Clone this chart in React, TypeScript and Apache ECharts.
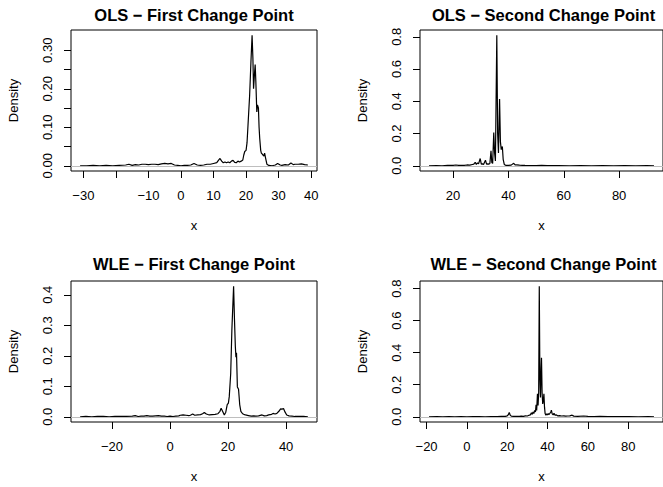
import React, { useEffect, useRef } from "react";
import * as echarts from "echarts";

const titles = [
  "OLS − First Change Point",
  "OLS − Second Change Point",
  "WLE − First Change Point",
  "WLE − Second Change Point",
];

// OLS - first change point (density estimate)
const ols1X = [-31, -29, -27, -25, -23, -21, -19, -17, -16, -15, -14, -13, -12, -11, -10, -9, -8, -7, -6, -5, -4, -3, -2, -1, 0, 1, 2, 3, 4, 5, 6, 7, 8, 9, 10, 11, 11.5, 12, 12.5, 13, 13.5, 14, 14.5, 15, 15.5, 16, 16.5, 17, 17.5, 18, 18.5, 19, 19.3, 19.6, 20, 20.3, 20.6, 21.1, 21.5, 21.85, 22.1, 22.3, 22.6, 22.8, 23.0, 23.3, 23.5, 23.8, 24.0, 24.2, 24.5, 24.7, 25.0, 25.2, 25.5, 25.7, 26.0, 26.4, 27, 28, 29, 29.7, 30.5, 31, 32, 33, 33.8, 34.5, 35, 36, 37, 38, 39];
const ols1Y = [0.000, 0.000, 0.001, 0.000, 0.001, 0.000, 0.001, 0.002, 0.004, 0.001, 0.003, 0.002, 0.004, 0.004, 0.003, 0.004, 0.004, 0.003, 0.005, 0.006, 0.005, 0.006, 0.002, 0.001, 0.000, 0.001, 0.001, 0.002, 0.006, 0.002, 0.001, 0.002, 0.004, 0.004, 0.006, 0.008, 0.014, 0.019, 0.012, 0.008, 0.010, 0.008, 0.010, 0.008, 0.012, 0.014, 0.009, 0.008, 0.012, 0.010, 0.012, 0.015, 0.028, 0.037, 0.040, 0.060, 0.106, 0.183, 0.270, 0.339, 0.280, 0.200, 0.240, 0.263, 0.220, 0.140, 0.158, 0.150, 0.100, 0.071, 0.040, 0.033, 0.030, 0.028, 0.025, 0.033, 0.020, 0.004, 0.001, 0.000, 0.002, 0.006, 0.002, 0.001, 0.003, 0.002, 0.007, 0.003, 0.004, 0.004, 0.005, 0.003, 0.002];

// OLS - second change point
const ols2X = [11.3, 14, 16, 18, 20, 21, 22, 23, 24, 25, 26, 27, 27.5, 28, 28.4, 28.8, 29.2, 29.8, 30.2, 30.6, 31.0, 31.7, 32.1, 32.6, 33.0, 33.3, 33.7, 34.0, 34.3, 34.7, 35.0, 35.3, 35.8, 36.1, 36.4, 36.8, 37.1, 37.4, 37.8, 38.1, 38.5, 39, 40, 41, 41.9, 42.5, 43, 44, 45, 46, 48, 50, 52, 54, 58, 62, 66, 70, 74, 78, 82, 86, 90, 92.6];
const ols2Y = [0.000, 0.001, 0.000, 0.002, 0.003, 0.005, 0.002, 0.003, 0.002, 0.005, 0.004, 0.008, 0.010, 0.022, 0.008, 0.018, 0.012, 0.045, 0.010, 0.012, 0.008, 0.035, 0.010, 0.012, 0.010, 0.015, 0.093, 0.020, 0.015, 0.206, 0.080, 0.030, 0.810, 0.200, 0.080, 0.415, 0.150, 0.100, 0.120, 0.040, 0.008, 0.003, 0.002, 0.004, 0.015, 0.005, 0.006, 0.004, 0.003, 0.002, 0.001, 0.001, 0.003, 0.001, 0.001, 0.000, 0.001, 0.000, 0.001, 0.000, 0.001, 0.000, 0.001, 0.000];

// WLE - first change point
const wle1X = [-31, -29, -27, -25, -23, -21, -19, -17, -15, -13, -12, -11, -10, -9, -8, -7, -6, -5, -4, -3, -2, -1, 0, 1, 2, 3, 3.5, 4.5, 5.5, 6.5, 7, 7.8, 8.5, 9.5, 10.5, 11.2, 11.8, 12.5, 13.5, 14.5, 15.5, 16.5, 17.2, 17.6, 18.1, 18.7, 19.2, 19.7, 20.1, 20.4, 20.9, 21.3, 21.9, 22.2, 22.5, 22.7, 22.9, 23.2, 23.6, 24.0, 24.4, 25, 25.4, 26, 27, 28, 28.8, 29.5, 30.5, 31.7, 32.5, 33.3, 34, 35, 35.5, 36.2, 36.8, 37.5, 38.1, 38.6, 39.1, 39.6, 40.2, 41, 42, 43, 44, 45, 46, 47.5];
const wle1Y = [0.000, 0.001, 0.000, 0.001, 0.001, 0.000, 0.001, 0.001, 0.001, 0.002, 0.004, 0.001, 0.002, 0.002, 0.004, 0.002, 0.002, 0.003, 0.004, 0.002, 0.002, 0.001, 0.002, 0.001, 0.002, 0.003, 0.005, 0.006, 0.005, 0.004, 0.005, 0.009, 0.005, 0.006, 0.007, 0.010, 0.014, 0.009, 0.006, 0.007, 0.008, 0.010, 0.018, 0.028, 0.018, 0.006, 0.015, 0.040, 0.045, 0.066, 0.142, 0.284, 0.428, 0.320, 0.230, 0.195, 0.210, 0.098, 0.090, 0.040, 0.018, 0.010, 0.008, 0.006, 0.004, 0.002, 0.003, 0.002, 0.003, 0.006, 0.003, 0.004, 0.006, 0.008, 0.011, 0.009, 0.011, 0.018, 0.026, 0.025, 0.027, 0.016, 0.006, 0.003, 0.002, 0.001, 0.001, 0.001, 0.001, 0.000];

// WLE - second change point
const wle2X = [-18.8, -15, -12, -9, -6, -3, 0, 3, 6, 9, 12, 15, 17, 19, 20, 20.6, 21, 21.5, 22, 23, 24, 25, 26, 27, 28, 29, 30, 30.5, 31, 31.5, 32, 32.4, 32.8, 33.2, 33.6, 34.0, 34.3, 34.6, 35.0, 35.3, 35.6, 35.9, 36.2, 36.5, 36.8, 37.0, 37.3, 37.6, 37.9, 38.2, 38.5, 38.8, 39.2, 39.6, 40.0, 40.4, 40.8, 41.2, 41.6, 41.9, 42.3, 42.8, 43.2, 43.7, 44.4, 45, 46, 47, 48, 49, 50, 51, 52.2, 53, 55, 57.9, 60, 63, 66, 70, 75, 80, 85, 90, 92.8];
const wle2Y = [0.000, 0.001, 0.000, 0.001, 0.000, 0.001, 0.000, 0.001, 0.001, 0.000, 0.001, 0.001, 0.002, 0.003, 0.006, 0.014, 0.027, 0.010, 0.004, 0.003, 0.002, 0.003, 0.002, 0.004, 0.003, 0.006, 0.005, 0.008, 0.010, 0.012, 0.025, 0.015, 0.030, 0.020, 0.040, 0.030, 0.075, 0.040, 0.144, 0.070, 0.150, 0.815, 0.250, 0.120, 0.300, 0.368, 0.150, 0.080, 0.100, 0.144, 0.060, 0.020, 0.010, 0.018, 0.012, 0.020, 0.014, 0.022, 0.030, 0.041, 0.018, 0.012, 0.022, 0.010, 0.012, 0.006, 0.007, 0.005, 0.006, 0.004, 0.005, 0.006, 0.010, 0.004, 0.003, 0.005, 0.002, 0.001, 0.002, 0.001, 0.001, 0.001, 0.000, 0.001, 0.000];

// tick marks and labelled ticks
const xTicks1 = [-30, -20, -10, 0, 10, 20, 30, 40];
const xLabels1 = [-30, -10, 0, 10, 20, 30, 40];
const yTicks1 = [0, 0.05, 0.1, 0.15, 0.2, 0.25, 0.3];
const yLabels1 = [0, 0.1, 0.2, 0.3];

const xTicks2 = [20, 40, 60, 80];
const yTicks2 = [0, 0.2, 0.4, 0.6, 0.8];

const xTicks3 = [-20, 0, 20, 40];
const yTicks3 = [0, 0.1, 0.2, 0.3, 0.4];

const xTicks4 = [-20, 0, 20, 40, 60, 80];
const yTicks4 = [0, 0.2, 0.4, 0.6, 0.8];

const FONT = "'Liberation Sans', Arial, Helvetica, sans-serif";

const panels = [
  { x: ols1X, y: ols1Y, xt: xTicks1, xl: xLabels1, yt: yTicks1, yl: yLabels1, dec: 2 },
  { x: ols2X, y: ols2Y, xt: xTicks2, xl: xTicks2, yt: yTicks2, yl: yTicks2, dec: 1 },
  { x: wle1X, y: wle1Y, xt: xTicks3, xl: xTicks3, yt: yTicks3, yl: yTicks3, dec: 1 },
  { x: wle2X, y: wle2Y, xt: xTicks4, xl: xTicks4, yt: yTicks4, yl: yTicks4, dec: 1 },
];

const boxes = [
  { left: 71, top: 30, width: 246, height: 141 },
  { left: 420, top: 30, width: 247, height: 141 },
  { left: 71, top: 281, width: 246, height: 141 },
  { left: 420, top: 281, width: 247, height: 141 },
];

const fmtX = (v: number) => (v < 0 ? "\u2212" + Math.abs(v) : String(v));

export default function App() {
  const ref = useRef<HTMLDivElement>(null);
  useEffect(() => {
    if (!ref.current) return;
    const chart = echarts.init(ref.current, undefined, { renderer: "svg" });
    const labelStyle = { fontSize: 13, fontFamily: FONT, color: "#000" };
    const option: any = {
      animation: false,
      backgroundColor: "#fff",
      grid: boxes.map((b) => ({
        ...b,
        show: true,
        borderColor: "#000",
        borderWidth: 1,
        backgroundColor: "transparent",
        containLabel: false,
      })),
      xAxis: panels.map((p, i) => {
        const mn = Math.min(...p.x);
        const mx = Math.max(...p.x);
        const pad = 0.04 * (mx - mn);
        return {
          type: "value",
          gridIndex: i,
          position: "bottom",
          min: mn - pad,
          max: mx + pad,
          axisLine: { show: false, onZero: false },
          splitLine: { show: false },
          axisTick: { show: true, customValues: p.xt, length: 7, lineStyle: { color: "#000", width: 1 } },
          axisLabel: { customValues: p.xl, margin: 18, ...labelStyle, formatter: fmtX },
          name: "x",
          nameLocation: "middle",
          nameGap: 48,
          nameTextStyle: { ...labelStyle },
        };
      }),
      yAxis: panels.map((p, i) => {
        const mn = Math.min(...p.y);
        const mx = Math.max(...p.y);
        const pad = 0.04 * (mx - mn);
        return {
          type: "value",
          gridIndex: i,
          position: "left",
          min: mn - pad,
          max: mx + pad,
          axisLine: { show: false, onZero: false },
          splitLine: { show: false },
          axisTick: { show: true, customValues: p.yt, length: 7, lineStyle: { color: "#000", width: 1 } },
          axisLabel: {
            customValues: p.yl,
            margin: 17,
            rotate: 90,
            ...labelStyle,
            formatter: (v: number) => v.toFixed(p.dec),
          },
          name: "Density",
          nameLocation: "middle",
          nameRotate: 90,
          nameGap: 51,
          nameTextStyle: { ...labelStyle },
        };
      }),
      series: panels.map((p, i) => ({
        type: "line",
        xAxisIndex: i,
        yAxisIndex: i,
        data: p.x.map((xv, j) => [xv, p.y[j]]),
        showSymbol: false,
        symbol: "none",
        lineStyle: { color: "#000", width: 1.2 },
        emphasis: { disabled: true },
        markLine: {
          silent: true,
          symbol: ["none", "none"],
          label: { show: false },
          lineStyle: { color: "#bebebe", type: "solid", width: 1.2 },
          data: [{ yAxis: 0 }],
        },
      })),
      graphic: titles.map((t, i) => ({
        type: "text",
        x: boxes[i].left + boxes[i].width / 2,
        y: i < 2 ? 15 : 264,
        style: {
          text: t,
          font: "bold 16.5px " + FONT,
          fill: "#000",
          textAlign: "center",
          textVerticalAlign: "middle",
        },
      })),
    };
    chart.setOption(option);
    return () => chart.dispose();
  }, []);
  return (
    <div
      ref={ref}
      style={{ position: "absolute", left: 0, top: 0, width: 663, height: 487 }}
    />
  );
}
